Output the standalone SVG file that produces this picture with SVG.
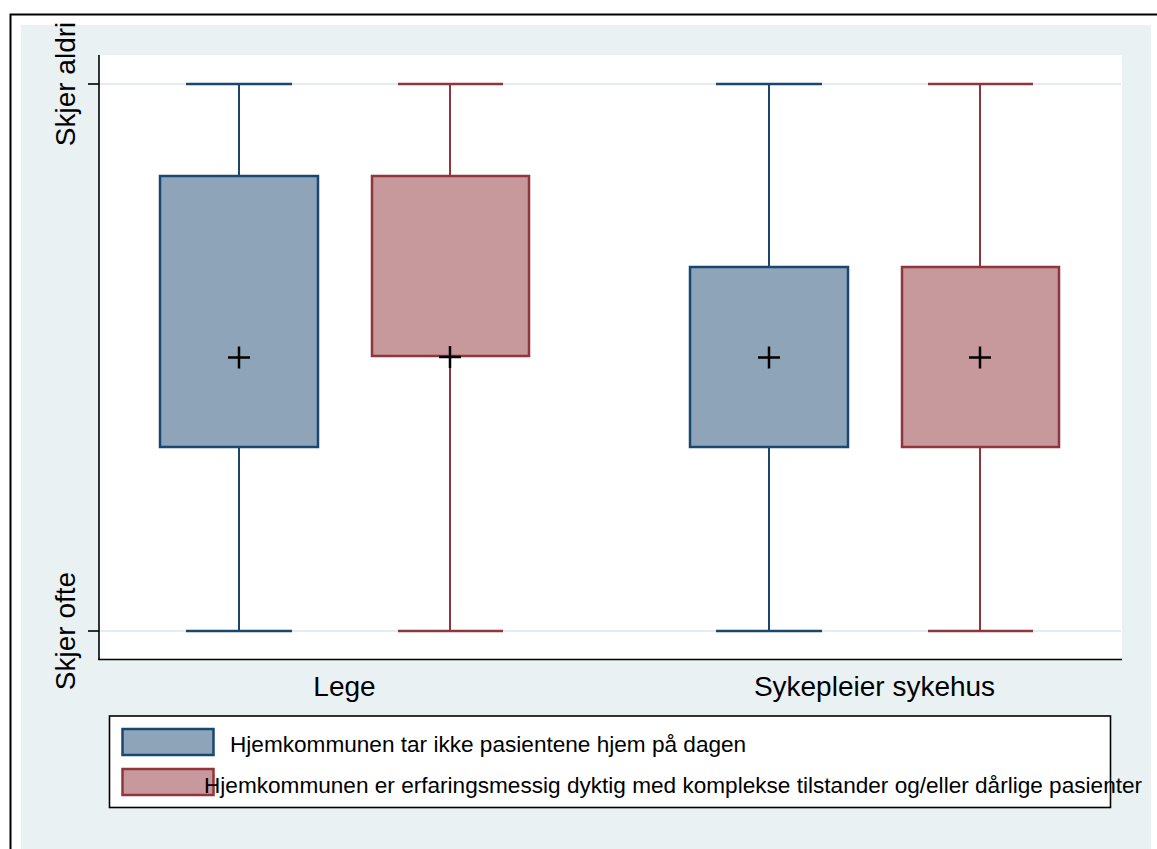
<svg xmlns="http://www.w3.org/2000/svg" width="1157" height="849" viewBox="0 0 1157 849">
<style>
text{font-family:"Liberation Sans",Arial,sans-serif;fill:#000}
.lbl{font-size:28px}
.leg{font-size:22.6px}
.bw{stroke:#1a476f;stroke-width:2;fill:none}
.rw{stroke:#90353b;stroke-width:2;fill:none}
.bc{stroke:#1a476f;stroke-width:2.7;fill:none}
.rc{stroke:#90353b;stroke-width:2.7;fill:none}
.bb{fill:#8ea4b8;stroke:#1a476f;stroke-width:2.5}
.rb{fill:#c8999c;stroke:#90353b;stroke-width:2.5}
.plus{stroke:#000;stroke-width:2.5;fill:none}
.grid{stroke:#e3edf1;stroke-width:2}
</style>
<rect x="0" y="0" width="1157" height="849" fill="#fff"/>
<rect x="10.5" y="14.5" width="1170" height="850" fill="none" stroke="#000" stroke-width="2"/>
<rect x="21" y="25" width="1130" height="830" fill="#eaf1f3"/>
<rect x="99" y="55" width="1023" height="604" fill="#fff"/>
<g id="grid">
<line class="grid" x1="100" y1="84" x2="1121" y2="84"/>
<line class="grid" x1="100" y1="631" x2="1121" y2="631"/>
</g>
<g id="axes" stroke="#000" stroke-width="1.6" fill="none">
<line x1="99" y1="55" x2="99" y2="660"/>
<line x1="98.2" y1="659.5" x2="1122" y2="659.5"/>
<line x1="88" y1="84" x2="99" y2="84"/>
<line x1="88" y1="631" x2="99" y2="631"/>
</g>
<g id="yaxis-labels">
<text class="lbl" text-anchor="middle" transform="translate(75,84) rotate(-90)">Skjer aldri</text>
<text class="lbl" text-anchor="middle" transform="translate(75,631) rotate(-90)">Skjer ofte</text>
</g>
<g id="connectors">
<line class="bw" x1="239" y1="84" x2="239" y2="176"/>
<line class="bw" x1="239" y1="447" x2="239" y2="631"/>
<line class="bc" x1="186" y1="84" x2="292" y2="84"/>
<line class="bc" x1="186" y1="631" x2="292" y2="631"/>
<line class="rw" x1="450" y1="84" x2="450" y2="176"/>
<line class="rw" x1="450" y1="356" x2="450" y2="631"/>
<line class="rc" x1="398" y1="84" x2="503" y2="84"/>
<line class="rc" x1="398" y1="631" x2="503" y2="631"/>
<line class="bw" x1="769" y1="84" x2="769" y2="267"/>
<line class="bw" x1="769" y1="447" x2="769" y2="631"/>
<line class="bc" x1="716" y1="84" x2="822" y2="84"/>
<line class="bc" x1="716" y1="631" x2="822" y2="631"/>
<line class="rw" x1="980" y1="84" x2="980" y2="267"/>
<line class="rw" x1="980" y1="447" x2="980" y2="631"/>
<line class="rc" x1="928" y1="84" x2="1033" y2="84"/>
<line class="rc" x1="928" y1="631" x2="1033" y2="631"/>
</g>
<g id="box-lege-blue"><rect class="bb" x="160" y="176" width="158" height="271"/></g>
<g id="box-lege-red"><rect class="rb" x="372" y="176" width="157" height="180"/></g>
<g id="box-syk-blue"><rect class="bb" x="690" y="267" width="158" height="180"/></g>
<g id="box-syk-red"><rect class="rb" x="902" y="267" width="157" height="180"/></g>
<g id="means">
<path class="plus" d="M228 357.5H250M239 346.5V368.5"/>
<path class="plus" d="M439 357H461M450 346V368"/>
<path class="plus" d="M758 357.5H780M769 346.5V368.5"/>
<path class="plus" d="M969 357.5H991M980 346.5V368.5"/>
</g>
<g id="xaxis-labels">
<text class="lbl" x="344.5" y="696" text-anchor="middle">Lege</text>
<text class="lbl" x="874.5" y="696" text-anchor="middle">Sykepleier sykehus</text>
</g>
<g id="legend">
<rect x="109.5" y="716" width="1001" height="91.5" fill="#fff" stroke="#000" stroke-width="1.6"/>
<rect class="bb" x="122.5" y="729" width="91" height="26"/>
<rect class="rb" x="122.5" y="769" width="91" height="26"/>
<text class="leg" x="230" y="752">Hjemkommunen tar ikke pasientene hjem på dagen</text>
<text class="leg" x="204" y="793">Hjemkommunen er erfaringsmessig dyktig med komplekse tilstander og/eller dårlige pasienter</text>
</g>
</svg>
